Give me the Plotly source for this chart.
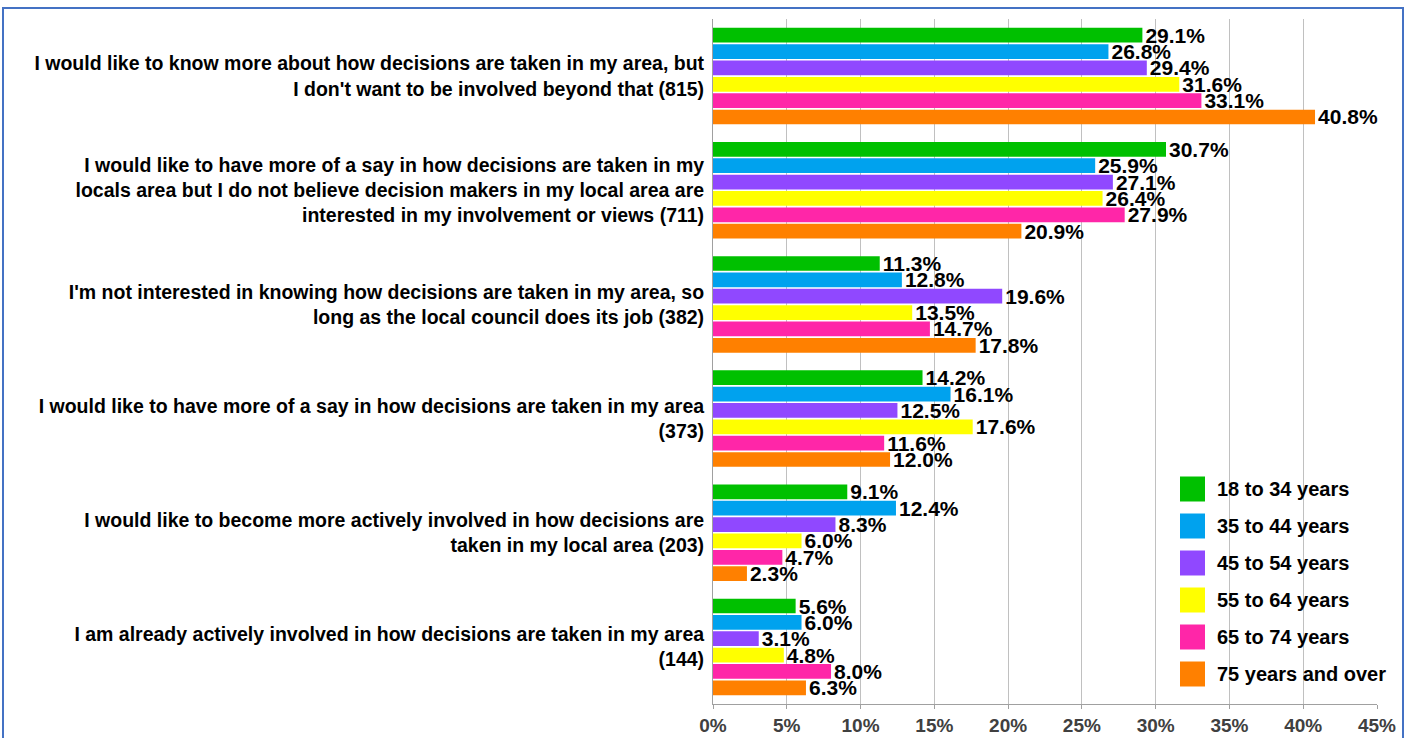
import plotly.graph_objects as go

categories = [
    "I would like to know more about how decisions are taken in my area, but<br>I don't want to be involved beyond that (815)",
    "I would like to have more of a say in how decisions are taken in my<br>locals area but I do not believe decision makers in my local area are<br>interested in my involvement or views (711)",
    "I'm not interested in knowing how decisions are taken in my area, so<br>long as the local council does its job (382)",
    "I would like to have more of a say in how decisions are taken in my area<br>(373)",
    "I would like to become more actively involved in how decisions are<br>taken in my local area (203)",
    "I am already actively involved in how decisions are taken in my area<br>(144)",
]

age_groups = ["18 to 34 years", "35 to 44 years", "45 to 54 years",
              "55 to 64 years", "65 to 74 years", "75 years and over"]

age_18_34 = [29.1, 30.7, 11.3, 14.2, 9.1, 5.6]
age_35_44 = [26.8, 25.9, 12.8, 16.1, 12.4, 6.0]
age_45_54 = [29.4, 27.1, 19.6, 12.5, 8.3, 3.1]
age_55_64 = [31.6, 26.4, 13.5, 17.6, 6.0, 4.8]
age_65_74 = [33.1, 27.9, 14.7, 11.6, 4.7, 8.0]
age_75_plus = [40.8, 20.9, 17.8, 12.0, 2.3, 6.3]

series = [age_18_34, age_35_44, age_45_54, age_55_64, age_65_74, age_75_plus]
colors = ["#00C000", "#00A2EE", "#9048FF", "#FFFF00", "#FF26A8", "#FF8000"]

tick_vals = [0, 5, 10, 15, 20, 25, 30, 35, 40, 45]
tick_text = [f"{v}%" for v in tick_vals]

FONT = "Liberation Sans, Arial, sans-serif"

fig = go.Figure()
for name, vals, col in zip(age_groups, series, colors):
    fig.add_trace(go.Bar(
        y=categories, x=vals, name=name, orientation="h",
        marker=dict(color=col, line=dict(width=0)),
        text=[f"{v:.1f}%" for v in vals],
        textposition="outside", constraintext="none", cliponaxis=False,
        textfont=dict(family=FONT, size=21, color="black", weight="bold"),
        showlegend=False,
    ))

# plot area in pixels: x 713..1377, y 19..704
W, H = 1413, 738
L, R, T, B = 713, 36, 19, 34
pw, ph = W - L - R, H - T - B


def px_x(x):
    return (x - L) / pw


def px_y(y):
    return (H - B - y) / ph


shapes = [dict(type="rect", xref="paper", yref="paper",
               x0=px_x(3), x1=px_x(1403), y0=px_y(8), y1=px_y(780),
               line=dict(color="#4472C4", width=2), fillcolor="rgba(0,0,0,0)",
               layer="below")]
annotations = []
for i, (name, col) in enumerate(zip(age_groups, colors)):
    yc = 489 + i * 37
    shapes.append(dict(type="rect", xref="paper", yref="paper",
                       x0=px_x(1180), x1=px_x(1205),
                       y0=px_y(yc + 12.5), y1=px_y(yc - 12.5),
                       fillcolor=col, line=dict(width=0)))
    annotations.append(dict(xref="paper", yref="paper", x=px_x(1215), y=px_y(yc),
                            xanchor="left", yanchor="middle", showarrow=False,
                            text=name,
                            font=dict(family=FONT, size=20, color="black", weight="bold")))

fig.update_layout(
    width=W, height=H,
    margin=dict(l=L, r=R, t=T, b=B),
    paper_bgcolor="white", plot_bgcolor="white",
    barmode="group", bargap=0.14, bargroupgap=0.1,
    shapes=shapes, annotations=annotations,
    xaxis=dict(range=[0, 45], tickvals=tick_vals, ticktext=tick_text,
               showgrid=True, gridcolor="#C0C0C0", gridwidth=1,
               showline=True, linecolor="#A0A0A0", linewidth=1,
               ticks="outside", ticklen=4, tickcolor="#A0A0A0",
               zeroline=False, ticklabelstandoff=0, automargin=False,
               tickfont=dict(family=FONT, size=19, color="#404040", weight="bold")),
    yaxis=dict(autorange="reversed", showgrid=False, automargin=False,
               showline=True, linecolor="#A0A0A0", linewidth=1,
               ticks="", ticklabelstandoff=4,
               tickfont=dict(family=FONT, size=19.5, color="black", weight="bold")),
)

fig.write_html("out.html")
